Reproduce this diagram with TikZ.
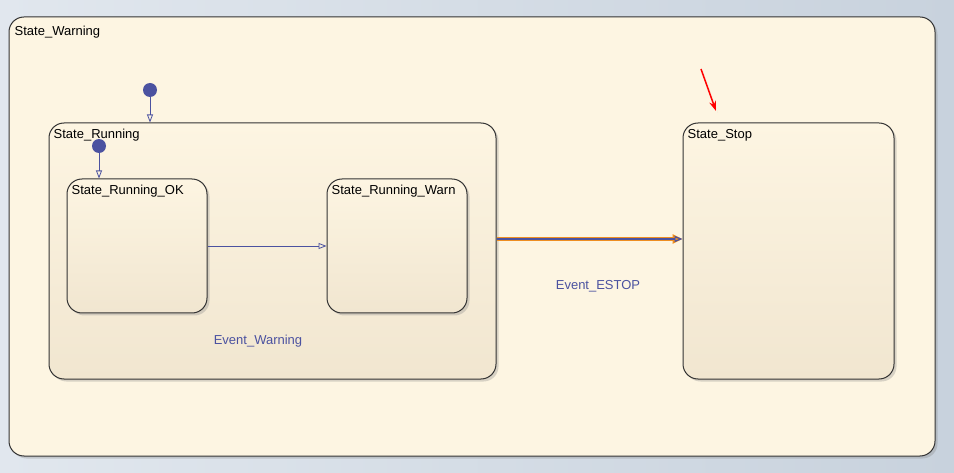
\documentclass[tikz,border=0pt]{standalone}
\usepackage{fontspec}
\setmainfont{Liberation Sans}
\usetikzlibrary{arrows.meta,shadows,calc}
\definecolor{bgA}{HTML}{E1E7EE}
\definecolor{bgB}{HTML}{C8D2DD}
\definecolor{cream}{HTML}{FDF5E2}
\definecolor{creamdark}{HTML}{F1E6D0}
\definecolor{edge}{HTML}{333333}
\definecolor{trans}{HTML}{4B52A0}
\definecolor{hilite}{HTML}{EE8E22}
\tikzset{
  chart/.style={draw=edge,line width=1pt,rounded corners=15pt,inner sep=0pt,
    drop shadow={shadow xshift=2.5pt,shadow yshift=-2.5pt,opacity=0.3}},
  superstate/.style={chart,fill=cream},
  substate/.style={chart,top color=cream,bottom color=creamdark},
  statename/.style={anchor=north west,inner sep=0pt,font=\fontsize{13}{15}\selectfont},
  eventname/.style={text=trans,inner sep=0pt,font=\fontsize{13}{15}\selectfont},
  defaultdot/.style={circle,fill=trans,minimum size=14pt,inner sep=0pt},
  trn/.style={trans,line width=0.8pt,-{Triangle[open,length=8pt,width=6pt]}}
}
\begin{document}
\begin{tikzpicture}[x=1pt,y=-1pt]
        % Background
        \shade[left color=bgA,right color=bgB] (0,0) rectangle (954,473);
        \useasboundingbox (0,0) rectangle (954,473);

        % Outer state
        \node[superstate,minimum width=926pt,minimum height=439pt] (warning) at (472,236.5) {};
        \node[statename] at ([xshift=6pt,yshift=-9pt]warning.north west) {State\_Warning};

        % Running and Stop
        \node[substate,minimum width=447pt,minimum height=256pt] (running) at (272.5,251) {};
        \node[statename] at ([xshift=5pt,yshift=-6.5pt]running.north west) {State\_Running};
        \node[substate,minimum width=211pt,minimum height=256pt] (stop) at (788.5,251) {};
        \node[statename] at ([xshift=5pt,yshift=-6.5pt]stop.north west) {State\_Stop};

        % Leaf states inside Running
        \foreach \name/\cx/\txt in {ok/137/State\_Running\_OK, warn/397/State\_Running\_Warn} {
            \node[substate,minimum width=140pt,minimum height=134pt] (\name) at (\cx,246) {};
            \node[statename] at ([xshift=5pt,yshift=-6.5pt]\name.north west) {\txt};
        }

        % Default transitions
        \node[defaultdot] (dotwarning) at (150,90) {};
        \draw[trn] (dotwarning) -- (dotwarning |- running.north);
        \node[defaultdot] (dotrunning) at (99,146) {};
        \draw[trn] (dotrunning) -- (dotrunning |- ok.north);

        % Event_Warning
        \draw[trn] (ok.east) -- (warn.west);
        \node[eventname] (evwarn) at (258,341) {Event\_Warning};

        % Event_ESTOP (highlighted)
        \coordinate (estop) at (0,239);
        \draw[hilite,line width=4.5pt,-{Triangle[open,length=10pt,width=9pt,line width=2.5pt]}]
            (running.east |- estop) -- (stop.west |- estop);
        \draw[trn,line width=1.2pt] (running.east |- estop) -- (stop.west |- estop);
        \node[eventname] (evestop) at (598,286) {Event\_ESTOP};

        % Red marker
        \coordinate (markA) at (701,69);
        \coordinate (markB) at (716,111);
        \draw[red,line width=1.5pt,-{Stealth[length=10pt,width=7pt]},
            drop shadow={shadow xshift=2pt,shadow yshift=-2pt,opacity=0.2}] (markA) -- (markB);
\end{tikzpicture}
\end{document}
